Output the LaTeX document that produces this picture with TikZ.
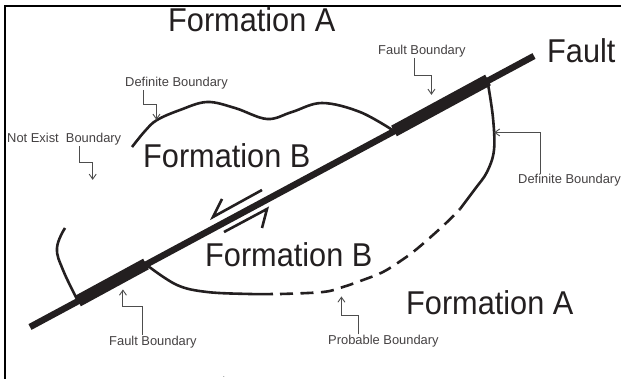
\documentclass[tikz,border=0pt]{standalone}
\usepackage{fontspec}
\usepackage{xcolor}
\setmainfont{Liberation Sans}
\newfontfamily\tallfont[FakeStretch=0.93]{Liberation Sans}
\usetikzlibrary{arrows.meta, positioning, calc}
\definecolor{inkdark}{HTML}{231F20}
\definecolor{inkgray}{HTML}{4D4D4D}

\begin{document}
\begin{tikzpicture}[
  x=1pt, y=-1pt,
  frameline/.style={draw=black, line width=2pt},
  faultline/.style={draw=inkdark, line width=6.5pt},
  faultzone/.style={draw=inkdark, line width=12pt},
  boundary/.style={draw=inkdark, line width=2.6pt},
  probable/.style={boundary, dash pattern=on 13pt off 7.5pt},
  slip/.style={draw=inkdark, line width=2.6pt, line join=miter},
  leader/.style={draw=inkgray, line width=0.9pt, -{Straight Barb[length=5pt,width=7pt]}},
  biglabel/.style={anchor=base west, inner sep=0pt, text=inkdark,
                   font=\tallfont\fontsize{33}{35}\selectfont},
  smalllabel/.style={anchor=base west, inner sep=0pt, text=inkdark!85,
                     font=\fontsize{12.9}{15}\selectfont}
]
\useasboundingbox (0,0) rectangle (621,379);

%% Frame
\coordinate (frameB) at (5,379);
\coordinate (frameC) at (5,6);
\coordinate (frameR) at (621,6);
\draw[frameline] (frameB) -- (frameC) -- (frameR);

%% Fault
\coordinate (faultS) at (30,327);
\coordinate (faultN) at (534,56);
\coordinate (zoneA) at (78,301);
\coordinate (zoneB) at (146,264);
\coordinate (zoneC) at (394,131);
\coordinate (zoneD) at (488,80);
\draw[faultline] (faultS) -- (faultN);
\draw[faultzone] (zoneA) -- (zoneB);
\draw[faultzone] (zoneC) -- (zoneD);

%% Boundaries
\draw[boundary] plot[smooth, tension=0.6] coordinates
  {(132,147) (145,131) (157,120) (180,110) (207,102) (235,108) (267,119) (292,112) (322,103) (360,112) (zoneC)};
\draw[boundary] plot[smooth, tension=0.6] coordinates
  {(488,84) (493,118) (494,150) (487,172) (475,189) (460,209)};
\draw[boundary] plot[smooth, tension=0.6] coordinates
  {(148,266) (177,285) (207,292) (250,294) (273,294)};
\draw[boundary] plot[smooth, tension=0.7] coordinates
  {(65,228) (57,248) (63,270) (zoneA)};
\draw[probable] plot[smooth, tension=0.6] coordinates
  {(280,294) (323,292) (343,287) (363,280) (383,272) (402,260) (418,248) (444,225) (460,209)};

%% Slip arrows
\coordinate (slipA) at (262,190);
\coordinate (slipB) at (213,217);
\coordinate (slipC) at (222,199);
\coordinate (slipD) at (224,232);
\coordinate (slipE) at (267,209);
\coordinate (slipF) at (262,228);
\draw[slip] (slipA) -- (slipB) -- (slipC);
\draw[slip] (slipD) -- (slipE) -- (slipF);

%% Formation labels
\node[biglabel] (formAtop) at (168,32) {Formation A};
\node[biglabel] (formBtop) at (143,168) {Formation B};
\node[biglabel] (formBlow) at (205,267) {Formation B};
\node[biglabel] (formAlow) at (406,314) {Formation A};
\node[biglabel] (faultname) at (547,63) {Fault};

%% Boundary labels
\node[smalllabel] (defTop) at (125,87) {Definite Boundary};
\node[smalllabel] (notExist) at (7,143) {Not Exist\ \ Boundary};
\node[smalllabel] (faultTop) at (378,55) {Fault Boundary};
\node[smalllabel] (defRight) at (518,184) {Definite Boundary};
\node[smalllabel] (faultLow) at (109,345) {Fault Boundary};
\node[smalllabel] (probLow) at (328,344) {Probable Boundary};
\node[font=\fontsize{6}{6}\selectfont, inner sep=0pt, anchor=base] (speck) at (224,377) {.};

%% Leaders
\draw[leader] ([xshift=-33pt]defTop.south) -- ++(0,15) -- ++(13,0) -- ++(0,15);
\draw[leader] ([xshift=15.5pt]notExist.south) -- ++(0,17) -- ++(13,0) -- ++(0,17);
\draw[leader] ([xshift=-7.5pt]faultTop.south) -- ++(0,18) -- ++(17,0) -- ++(0,19);
\draw[leader] ([xshift=-29.5pt]defRight.north) -- ++(0,-42) -- ++(-46,0);
\draw[leader] ([xshift=-10pt]faultLow.north) -- ++(0,-29) -- ++(-20,0) -- ++(0,-17);
\draw[leader] ([xshift=-25pt]probLow.north) -- ++(0,-19) -- ++(-17,0) -- ++(0,-19);
\end{tikzpicture}
\end{document}
